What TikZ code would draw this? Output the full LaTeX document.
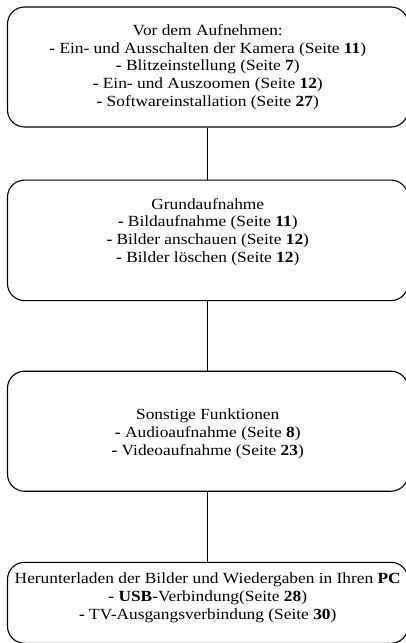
\documentclass[tikz,border=0pt]{standalone}
\usepackage{fontspec}
\setmainfont{Liberation Serif}[FakeStretch = 1.12]
\usepackage{tikz}
\usetikzlibrary{positioning}
\tikzstyle{stage} = [draw = black, line width = 1.1pt, rounded corners = 17pt, minimum width = 400.5pt, inner sep = 0pt]
\tikzstyle{caption} = [align = center, inner sep = 0pt, anchor = base, font = \fontsize{15.5}{17.6}\selectfont]
\tikzstyle{link} = [line width = 0.9pt]

\begin{document}
\begin{tikzpicture}[x = 1pt, y = -1pt]
		% Размеры
		\pgfmathsetmacro{\xc}{207.75}
		\useasboundingbox (0, 0) rectangle (405, 643);
		% Блоки
		\node[stage, minimum height = 120pt] (box1) at (\xc, 67) {};
		\node[stage, minimum height = 120.5pt, below = 52pt of box1] (box2) {};
		\node[stage, minimum height = 120pt, below = 69.5pt of box2] (box3) {};
		\node[stage, minimum height = 81pt, below = 70pt of box3] (box4) {};
		% Связи
		\draw[link] (box1) -- (box2);
		\draw[link] (box2) -- (box3);
		\draw[link] (box3) -- (box4);
		% Тексты (по базовой линии последней строки)
		\node[caption] (txt1) at (\xc, 106) {Vor dem Aufnehmen:\\ \textbf{-} Ein- und Ausschalten der Kamera (Seite \textbf{11})\\ \textbf{-} Blitzeinstellung (Seite \textbf{7})\\ \textbf{-} Ein- und Auszoomen (Seite \textbf{12})\\ \textbf{-} Softwareinstallation (Seite \textbf{27})};
		\node[caption] (txt2) at (\xc, 262) {Grundaufnahme\\ \textbf{-} Bildaufnahme (Seite \textbf{11})\\ \textbf{-} Bilder anschauen (Seite \textbf{12})\\ \textbf{-} Bilder löschen (Seite \textbf{12})};
		\node[caption] (txt3) at (\xc, 455) {Sonstige Funktionen\\ \textbf{-} Audioaufnahme (Seite \textbf{8})\\ \textbf{-} Videoaufnahme (Seite \textbf{23})};
		\node[caption] (txt4) at (\xc, 619) {Herunterladen der Bilder und Wiedergaben in Ihren \textbf{PC}\\ \textbf{- USB}-Verbindung(Seite \textbf{28})\\ \textbf{-} TV-Ausgangsverbindung (Seite \textbf{30})};
	\end{tikzpicture}
\end{document}
